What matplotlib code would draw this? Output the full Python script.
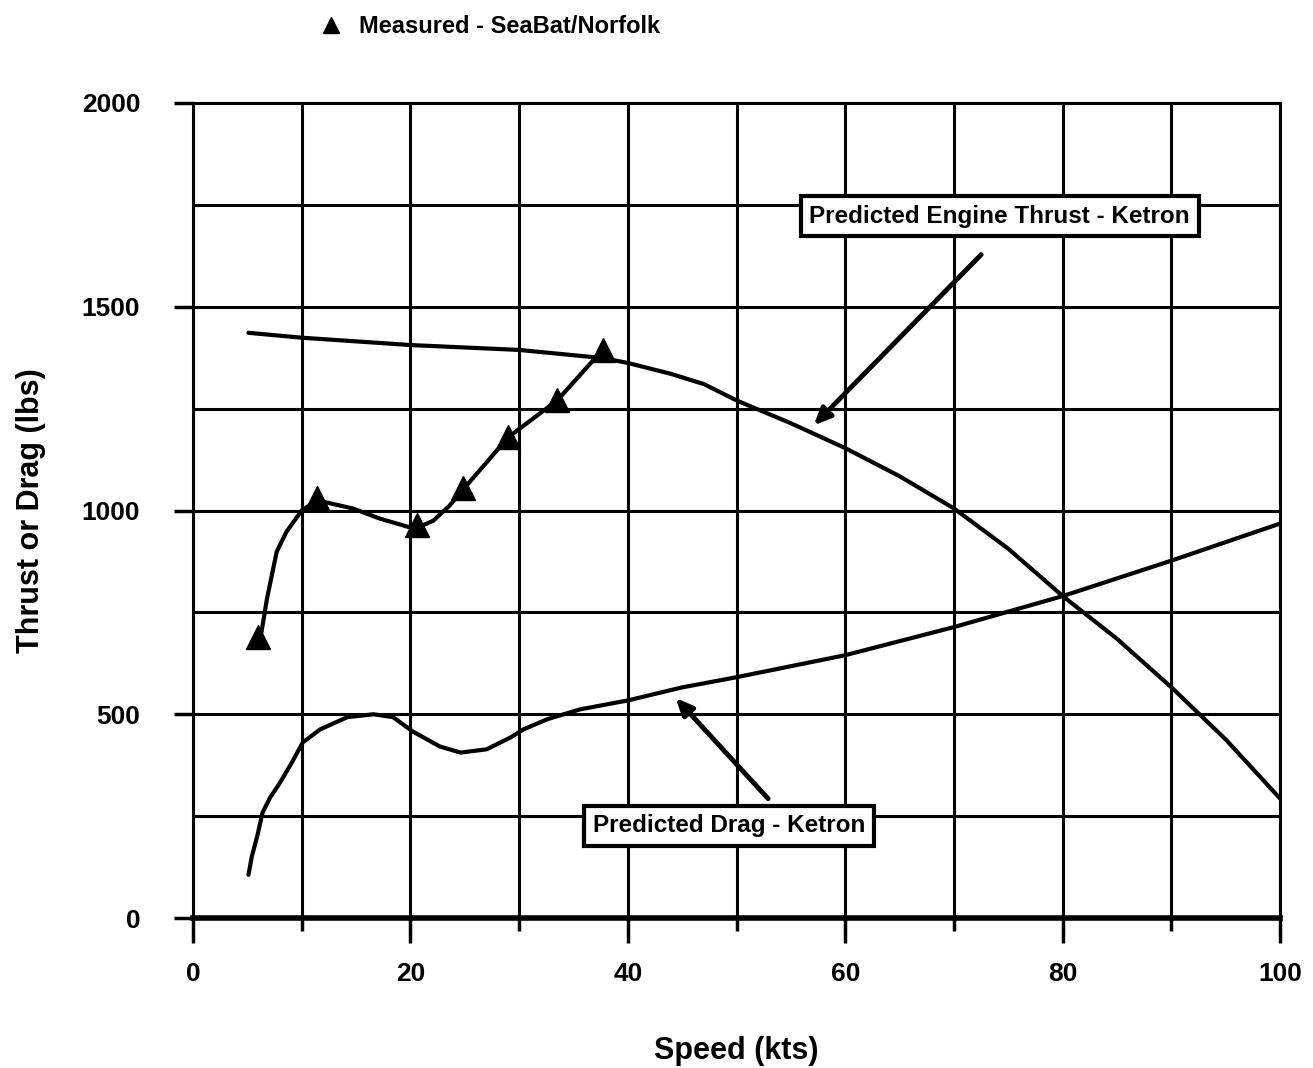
import matplotlib.pyplot as plt
from matplotlib.lines import Line2D

# values
thrust_speed = [5.1, 10, 20, 30, 37.7, 40, 44, 47, 50, 55, 60, 65, 70, 75, 80, 85, 90, 95, 100]
thrust_lbs = [1436, 1424, 1406, 1394, 1374, 1362, 1335, 1310, 1270, 1214, 1153, 1084, 1005, 906, 790, 685, 566, 438, 293]

drag_speed = [5.1, 5.4, 5.9, 6.4, 7.1, 8.0, 9.1, 10.1, 11.7, 14.2, 16.6, 18.4, 20.2, 22.7, 24.6, 27.0,
              29.2, 30.4, 32.6, 35.6, 40, 45, 50, 60, 70, 80, 90, 100]
drag_lbs = [106, 150, 200, 259, 296, 332, 382, 431, 463, 493, 500, 493, 458, 421, 406, 414,
            443, 463, 488, 512, 534, 566, 591, 645, 714, 790, 877, 968]

meas_curve_speed = [6.0, 6.3, 6.8, 7.7, 8.6, 10.0, 11.4, 14.7, 17.2, 20.4, 22.1, 23.6, 24.8, 29.0, 33.5, 37.7]
meas_curve_lbs = [680, 702, 783, 899, 948, 1000, 1025, 1005, 980, 955, 975, 1012, 1050, 1180, 1270, 1395]

meas_speed = [6.0, 11.4, 20.6, 24.8, 29.0, 33.5, 37.7]
meas_lbs = [690, 1030, 965, 1055, 1180, 1270, 1395]

x_ticks = [0, 20, 40, 60, 80, 100]
y_ticks = [0, 500, 1000, 1500, 2000]

plt.rcParams['font.family'] = ['Liberation Sans Narrow', 'Liberation Sans', 'DejaVu Sans']
plt.rcParams['font.weight'] = 'bold'

fig = plt.figure(figsize=(13.13, 10.68), dpi=100)
ax = fig.add_axes([0.147, 0.1404, 0.828, 0.7632])

ax.plot(thrust_speed, thrust_lbs, color='black', lw=3, solid_capstyle='round', zorder=3)
ax.plot(drag_speed, drag_lbs, color='black', lw=3, solid_capstyle='round', zorder=3)
ax.plot(meas_curve_speed, meas_curve_lbs, color='black', lw=3, zorder=3)
ax.plot(meas_speed, meas_lbs, linestyle='none', marker='^', ms=17, color='black', zorder=4)

ax.set_xlim(0, 100)
ax.set_ylim(0, 2000)
ax.set_xticks(x_ticks)
ax.set_xticks(range(10, 100, 20), minor=True)
ax.set_yticks(y_ticks)
ax.set_yticks(range(250, 2000, 500), minor=True)
ax.grid(True, which='both', color='black', lw=2.2)
ax.set_axisbelow(True)

ax.tick_params(axis='x', which='major', length=18, width=2.5, direction='out', labelsize=19, pad=14)
ax.tick_params(axis='x', which='minor', length=9, width=2.5, direction='out')
ax.tick_params(axis='y', which='major', length=14, width=2.5, direction='out', labelsize=19, pad=24)
ax.tick_params(axis='y', which='minor', length=0)
for lbl in ax.get_xticklabels() + ax.get_yticklabels():
    lbl.set_fontweight('bold')

for side in ['left', 'top', 'right']:
    ax.spines[side].set_linewidth(2.2)
ax.spines['bottom'].set_linewidth(4)

ax.set_xlabel("Speed (kts)", fontsize=22, fontweight='bold', labelpad=36)
ax.set_ylabel("Thrust or Drag (lbs)", fontsize=22, fontweight='bold', labelpad=26)

box = dict(boxstyle='square,pad=0.35', fc='white', ec='black', lw=3)
ax.text(74.2, 1722, "Predicted Engine Thrust - Ketron", fontsize=17.5, fontweight='bold',
        ha='center', va='center', bbox=box, zorder=5)
ax.text(49.3, 227, "Predicted Drag - Ketron", fontsize=17.5, fontweight='bold',
        ha='center', va='center', bbox=box, zorder=5)

arrow = dict(arrowstyle='-|>,head_length=1.0,head_width=0.45', color='black', lw=3.5,
             shrinkA=0, shrinkB=0)
ax.annotate('', xy=(57.1, 1209), xytext=(72.5, 1628), arrowprops=arrow, zorder=5)
ax.annotate('', xy=(44.4, 540), xytext=(52.9, 293), arrowprops=arrow, zorder=5)

handle = Line2D([], [], linestyle='none', marker='^', ms=12, color='black')
fig.legend([handle], ["Measured - SeaBat/Norfolk"], loc='center left',
           bbox_to_anchor=(0.218, 0.975), frameon=False, handletextpad=0.2,
           prop={'size': 17, 'weight': 'bold'})

fig.savefig("out.png", dpi=100)
